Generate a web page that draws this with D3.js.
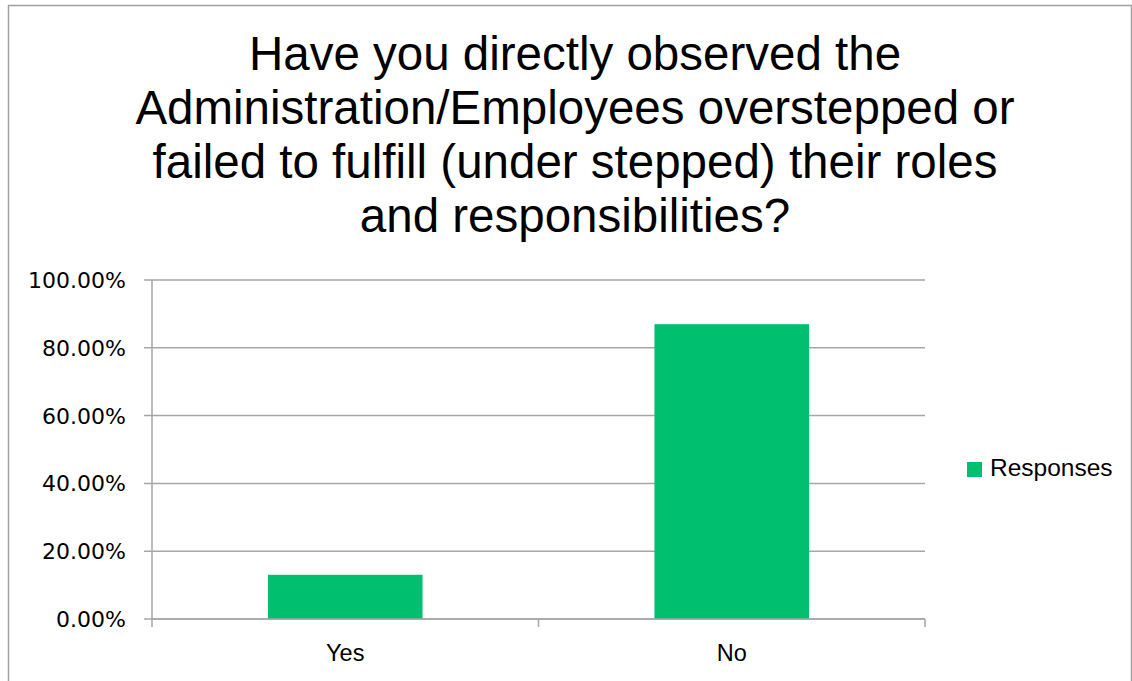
<!DOCTYPE html>
<html>
<head>
<meta charset="utf-8">
<script src="https://cdn.jsdelivr.net/npm/d3@7"></script>
<style>
  body { margin: 0; background: #fff; }
  svg { display: block; }
</style>
</head>
<body>
<div id="chart"></div>
<script>
const titleLines = [
  "Have you directly observed the",
  "Administration/Employees overstepped or",
  "failed to fulfill (under stepped) their roles",
  "and responsibilities?"
];
const categories = ["Yes", "No"];
const responses = [13.04, 86.96];
const yTicks = [0, 20, 40, 60, 80, 100];
const seriesName = "Responses";

const width = 1132, height = 681;
const green = "#00bf6f";
const gridColor = "#a6a6a6";

const svg = d3.select("#chart").append("svg")
  .attr("width", width)
  .attr("height", height);

// outer chart border
svg.append("rect")
  .attr("x", 8.5).attr("y", 5.5)
  .attr("width", 1123).attr("height", 700)
  .attr("fill", "none")
  .attr("stroke", "#a0a0a0")
  .attr("stroke-width", 1.5);

// title
svg.append("g").selectAll("text")
  .data(titleLines)
  .enter().append("text")
    .attr("x", 575)
    .attr("y", (d, i) => 70 + i * 54)
    .attr("text-anchor", "middle")
    .style("font-family", "Arial, 'Liberation Sans', sans-serif")
    .style("font-size", "47.5px")
    .style("fill", "#000")
    .text(d => d);

const plot = { left: 152, right: 925, top: 280, bottom: 619 };

const x = d3.scaleBand()
  .domain(categories)
  .range([plot.left, plot.right])
  .paddingInner(0.6)
  .paddingOuter(0.3);

const xOuter = d3.scaleBand()
  .domain(categories)
  .range([plot.left, plot.right]);

const y = d3.scaleLinear()
  .domain([0, 100])
  .range([plot.bottom, plot.top]);

// gridlines
svg.append("g").selectAll("line")
  .data(yTicks)
  .enter().append("line")
    .attr("x1", plot.left - 8)
    .attr("x2", plot.right)
    .attr("y1", d => y(d))
    .attr("y2", d => y(d))
    .attr("stroke", gridColor)
    .attr("stroke-width", 1.5);

// y axis line
svg.append("line")
  .attr("x1", plot.left).attr("x2", plot.left)
  .attr("y1", plot.top).attr("y2", plot.bottom)
  .attr("stroke", gridColor)
  .attr("stroke-width", 1.5);

// y tick labels
svg.append("g").selectAll("text")
  .data(yTicks)
  .enter().append("text")
    .attr("x", 126)
    .attr("y", d => y(d))
    .attr("dy", "0.36em")
    .attr("text-anchor", "end")
    .style("font-family", "'DejaVu Sans', sans-serif")
    .style("font-size", "22px")
    .style("fill", "#000")
    .text(d => d.toFixed(2) + "%");

// x axis ticks between categories
const xTickPos = [plot.left].concat(categories.map(c => xOuter(c) + xOuter.bandwidth()));
svg.append("g").selectAll("line")
  .data(xTickPos)
  .enter().append("line")
    .attr("x1", d => d).attr("x2", d => d)
    .attr("y1", plot.bottom).attr("y2", plot.bottom + 8)
    .attr("stroke", gridColor)
    .attr("stroke-width", 1.5);

// bars
svg.append("g").selectAll("rect")
  .data(categories)
  .enter().append("rect")
    .attr("x", d => x(d))
    .attr("y", (d, i) => y(responses[i]))
    .attr("width", x.bandwidth())
    .attr("height", (d, i) => y(0) - y(responses[i]))
    .attr("fill", green);

// redraw baseline over bars
svg.append("line")
  .attr("x1", plot.left).attr("x2", plot.right)
  .attr("y1", y(0)).attr("y2", y(0))
  .attr("stroke", gridColor)
  .attr("stroke-width", 1.5);

// category labels
svg.append("g").selectAll("text")
  .data(categories)
  .enter().append("text")
    .attr("x", d => xOuter(d) + xOuter.bandwidth() / 2)
    .attr("y", 661)
    .attr("text-anchor", "middle")
    .style("font-family", "Arial, 'Liberation Sans', sans-serif")
    .style("font-size", "23.5px")
    .style("fill", "#000")
    .text(d => d);

// legend
const legend = svg.append("g").attr("transform", "translate(967,462)");
legend.append("rect")
  .attr("width", 15).attr("height", 15)
  .attr("fill", green);
legend.append("text")
  .attr("x", 23).attr("y", 14)
  .style("font-family", "Arial, 'Liberation Sans', sans-serif")
  .style("font-size", "24.5px")
  .style("fill", "#000")
  .text(seriesName);
</script>
</body>
</html>
